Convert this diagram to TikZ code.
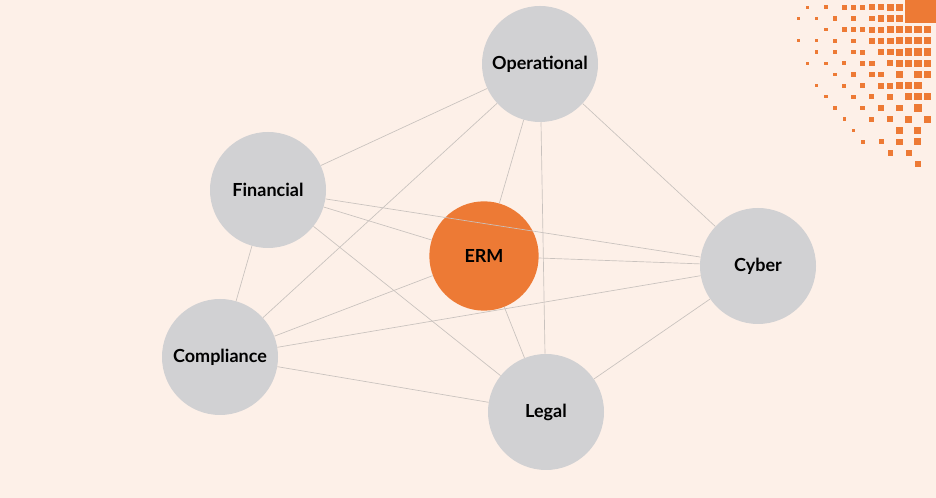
\documentclass[tikz,border=0pt]{standalone}
\usepackage{fontspec}
\setmainfont{Lato}
\definecolor{bg}{HTML}{FDF0E8}
\definecolor{org}{HTML}{ED7A35}
\definecolor{gr}{HTML}{D1D1D3}
\definecolor{ln}{HTML}{C9C2BE}
\begin{document}
\begin{tikzpicture}[x=0.75pt,y=-0.75pt,
  risk/.style={circle,fill=gr,minimum size=87pt,inner sep=0pt,font=\bfseries\fontsize{13.5}{15}\selectfont,text=black},
  core/.style={risk,fill=org,minimum size=82pt},
  link/.style={draw=ln,line width=0.5pt}]
\fill[bg] (0,0) rectangle (936,498);
\useasboundingbox (0,0) rectangle (936,498);
\foreach \j/\cols in {0/{1,3,5,6,7,8,9,10,11},1/{0,2,4,6,8,9,10,11,12},2/{3,5,6,7,8,9,10,11,12,13,14},3/{0,2,4,6,8,9,10,11,12,13,14},4/{2,4,6,7,9,10,11,12,13,14},5/{1,3,5,7,8,10,11,12,13,14},6/{4,6,8,9,11,13,14},7/{2,5,7,9,10,11,12,13},8/{3,6,8,10,12,13,14},9/{4,7,9,11,13},10/{5,8,10,12,14},11/{6,11,13},12/{7,9,11,13},13/{10,12},14/{13}}{
  \foreach \i in \cols {
    \pgfmathsetmacro\s{max(1.6,min(3.6,1.2+0.22*\i-0.05*\j))}
    \fill[org] ({798.3+9.2*\i-\s},{7.3+11.2*\j-\s}) rectangle ++({2*\s},{2*\s});
  }}
\fill[org] (905,0) rectangle (936,23);
\node[risk] (op) at (540,64) {Operational};
\node[risk] (fin) at (268,190) {Financial};
\node[core] (erm) at (484,256) {ERM};
\node[risk] (cy) at (758,266) {Cyber};
\node[risk] (co) at (220,357) {Compliance};
\node[risk] (le) at (546,412) {Legal};
\foreach \a/\b in {op/fin,op/cy,op/erm,op/le,op/co,fin/cy,fin/erm,fin/le,fin/co,erm/cy,erm/co,erm/le,cy/co,cy/le,co/le}
  \draw[link] (\a) -- (\b);
\end{tikzpicture}
\end{document}
